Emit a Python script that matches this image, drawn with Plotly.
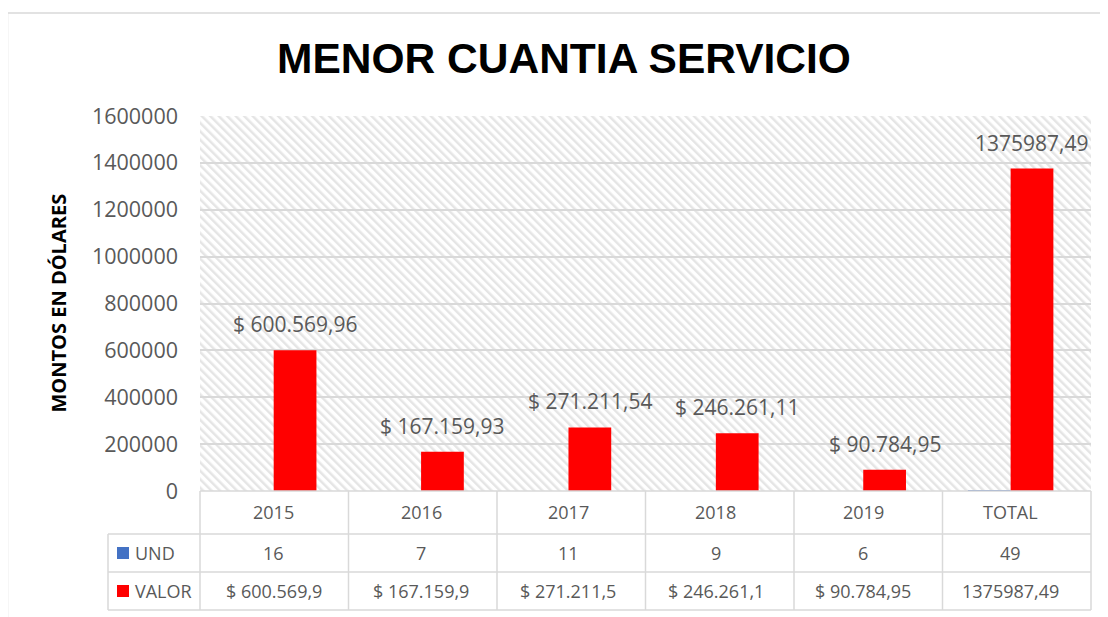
import base64
import plotly.graph_objects as go

categorias = ["2015", "2016", "2017", "2018", "2019", "TOTAL"]
und = [16, 7, 11, 9, 6, 49]
valor = [600569.96, 167159.93, 271211.54, 246261.11, 90784.95, 1375987.49]
etiquetas_valor = ["$ 600.569,96", "$ 167.159,93", "$ 271.211,54",
                   "$ 246.261,11", "$ 90.784,95", "1375987,49"]
tabla_valor = ["$ 600.569,9", "$ 167.159,9", "$ 271.211,5",
               "$ 246.261,1", "$ 90.784,95", "1375987,49"]
y_ticks = [0, 200000, 400000, 600000, 800000, 1000000, 1200000, 1400000, 1600000]

# la pagina deja 8px de margen en el body
OFF = 8
VW, VH = 1108, 617
W, H = VW - OFF, VH - OFF
L, R, T, B = 200, 1091, 116, 491   # area de trazado en pixeles de la ventana
GRIS = "#d9d9d9"
TXT = "#595959"
AZUL = "#4472C4"
ROJO = "#FF0000"
FONT = "Open Sans"
BARGAP = 0.42


def px(x):
    return (x - L) / (R - L)


def py(y):
    return (B - y) / (B - T)


# fondo rayado del area de trazado
svg = ('<svg xmlns="http://www.w3.org/2000/svg" width="%d" height="%d">'
       '<defs><pattern id="p" width="6" height="6" patternUnits="userSpaceOnUse" '
       'patternTransform="rotate(-45)"><rect width="2.5" height="6" fill="#e5e5e5"/>'
       '</pattern></defs><rect width="100%%" height="100%%" fill="url(#p)"/></svg>') % (R - L, B - T)
hatch = "data:image/svg+xml;base64," + base64.b64encode(svg.encode()).decode()

fig = go.Figure()
fig.add_trace(go.Bar(x=categorias, y=und, name="UND", marker_color=AZUL,
                     marker_line_width=0))
fig.add_trace(go.Bar(x=categorias, y=valor, name="VALOR", marker_color=ROJO,
                     marker_line_width=0))

shapes = []
annotations = []

# etiquetas de datos sobre las barras VALOR
off = (1 - BARGAP) / 4
for i, (v, t) in enumerate(zip(valor, etiquetas_valor)):
    annotations.append(dict(x=i + off, y=v, xref="x", yref="y", text=t,
                            showarrow=False, yanchor="bottom", yshift=10,
                            font=dict(family=FONT, size=21, color=TXT)))

# tabla de datos
filas = [491, 534, 572, 610]
line = dict(color=GRIS, width=1.5)
shapes.append(dict(type="line", xref="paper", yref="paper", x0=0, x1=1,
                   y0=py(filas[0]), y1=py(filas[0]), line=line))
for yy in filas[1:]:
    shapes.append(dict(type="line", xref="paper", yref="paper", x0=px(108), x1=1,
                       y0=py(yy), y1=py(yy), line=line))
n = len(categorias)
for k in range(n + 1):
    shapes.append(dict(type="line", xref="paper", yref="paper", x0=k / n, x1=k / n,
                       y0=py(filas[0]), y1=py(filas[3]), line=line))
shapes.append(dict(type="line", xref="paper", yref="paper", x0=px(108), x1=px(108),
                   y0=py(filas[1]), y1=py(filas[3]), line=line))

cell_font = dict(family=FONT, size=18, color=TXT)
for i in range(n):
    for yc, t in [((filas[0] + filas[1]) / 2, categorias[i]),
                  ((filas[1] + filas[2]) / 2, str(und[i])),
                  ((filas[2] + filas[3]) / 2, tabla_valor[i])]:
        annotations.append(dict(x=i, y=py(yc), xref="x", yref="paper", text=t,
                                showarrow=False, yanchor="middle", font=cell_font))

# leyenda en la tabla
for (y0, y1), nombre, col in [((filas[1], filas[2]), "UND", AZUL),
                              ((filas[2], filas[3]), "VALOR", ROJO)]:
    yc = (y0 + y1) / 2
    shapes.append(dict(type="rect", xref="paper", yref="paper", x0=px(117), x1=px(129),
                       y0=py(yc - 6), y1=py(yc + 6), fillcolor=col, line_width=0))
    annotations.append(dict(x=px(133), y=py(yc), xref="paper", yref="paper", text=nombre,
                            showarrow=False, xanchor="left", yanchor="middle",
                            font=cell_font))

# titulo del eje y
annotations.append(dict(x=px(58), y=0.5, xref="paper", yref="paper",
                        text="<b>MONTOS EN DÓLARES</b>", textangle=-90, showarrow=False,
                        xanchor="center", yanchor="middle",
                        font=dict(family=FONT, size=20, color="black")))

# borde del grafico
shapes.append(dict(type="rect", xref="paper", yref="paper", x0=px(7.5), x1=px(1125),
                   y0=py(13), y1=py(640), line=dict(color=GRIS, width=1.5)))

fig.update_layout(
    width=W, height=H,
    margin=dict(l=L - OFF, r=VW - R, t=T - OFF, b=VH - B),
    paper_bgcolor="white", plot_bgcolor="rgba(0,0,0,0)",
    barmode="group", bargap=BARGAP, bargroupgap=0,
    showlegend=False,
    title=dict(text="<b>MENOR CUANTIA SERVICIO</b>", xref="container", yref="container",
               x=(564 - OFF) / W, y=1 - (58 - OFF) / H, xanchor="center", yanchor="middle",
               font=dict(family="Liberation Sans", size=42.5, color="black")),
    xaxis=dict(showticklabels=False, showgrid=False, showline=False, zeroline=False),
    yaxis=dict(range=[0, 1600000], tickvals=y_ticks, tickformat="d",
               showgrid=True, gridcolor=GRIS, gridwidth=1.5, zeroline=False,
               showline=False, ticks="", ticklabelstandoff=21,
               tickfont=dict(family=FONT, size=21.5, color=TXT)),
    images=[dict(source=hatch, xref="paper", yref="paper", x=0, y=1, sizex=1, sizey=1,
                 xanchor="left", yanchor="top", sizing="stretch", layer="below")],
    shapes=shapes, annotations=annotations,
)

fig.write_html("out.html")
